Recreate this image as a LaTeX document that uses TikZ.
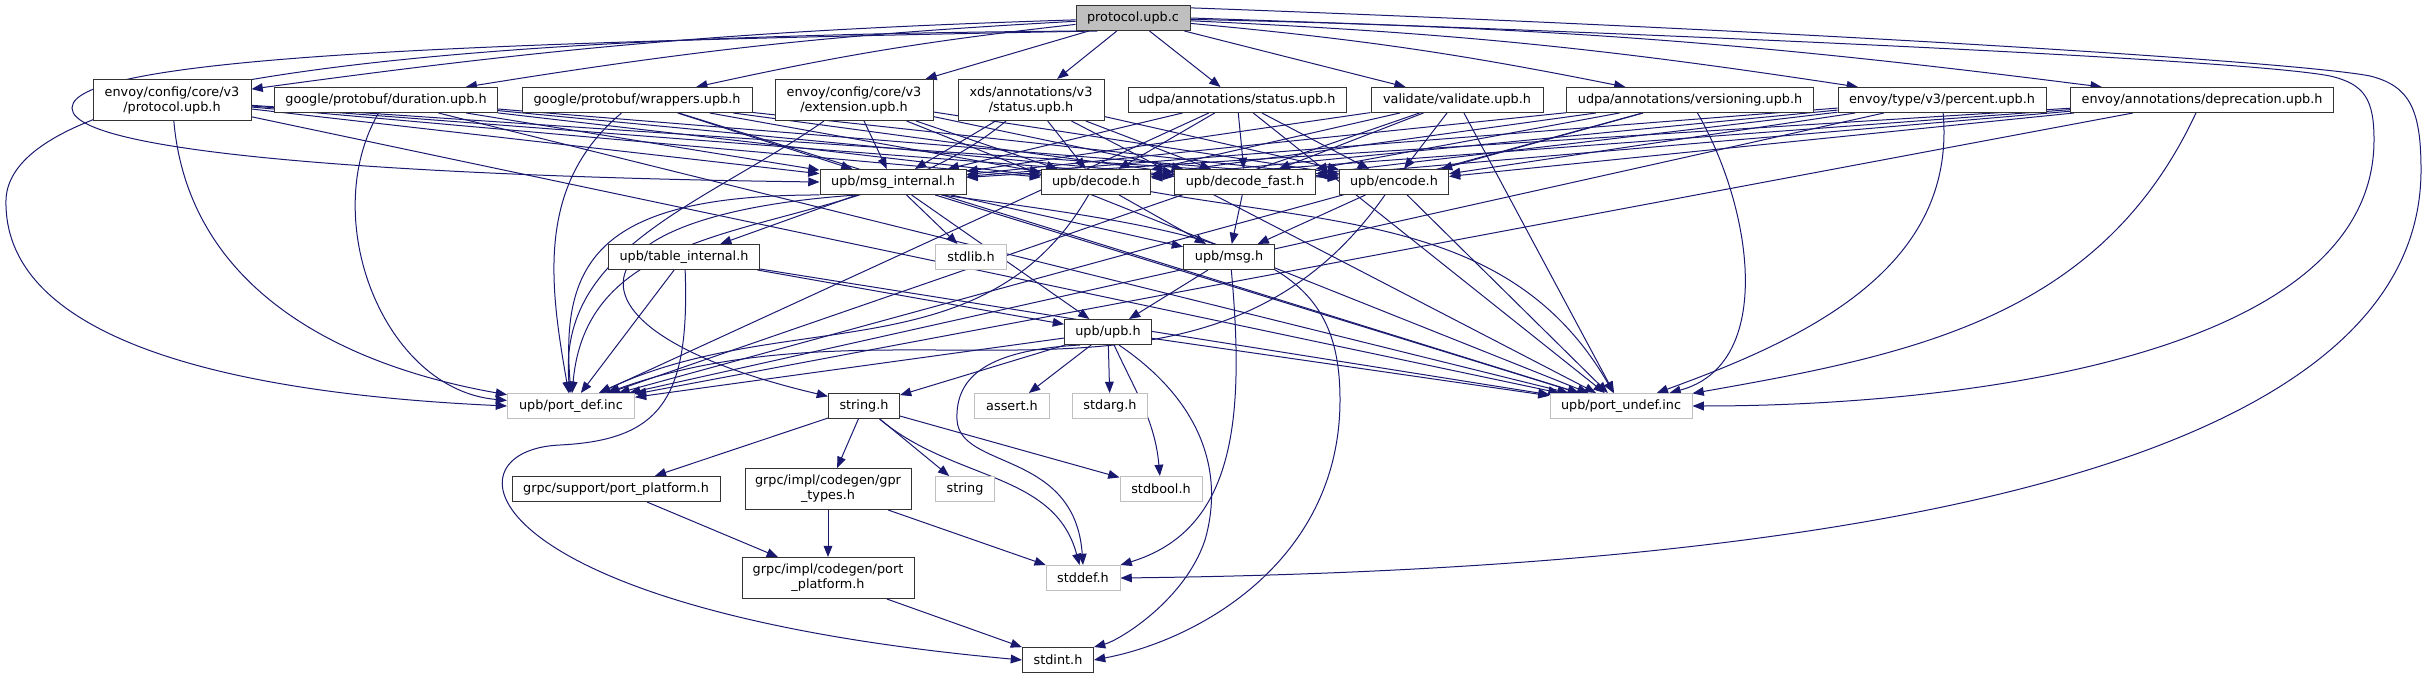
\documentclass[tikz,border=0pt]{standalone}
\usepackage{fontspec}
\setmainfont{DejaVu Sans}
\usepackage{xcolor}
\usetikzlibrary{arrows.meta}
\usetikzlibrary{backgrounds}
\definecolor{edgeblue}{RGB}{25,25,112}
\tikzset{file/.style={draw=black!80, fill=white, line width=0.8pt, minimum height=20pt,
   inner sep=1pt, align=center, font=\fontsize{10.25}{12}\selectfont},
 sys/.style={file, draw=black!25},
 mainfile/.style={file, fill=black!25},
 twoline/.style={minimum height=32.8pt},
 wd/.style={minimum width=#1*0.8pt},
 dep/.style={draw=edgeblue, line width=0.8pt, -{Triangle[length=9pt,width=7pt]}},
 }

\begin{document}
\begin{tikzpicture}[x=0.8pt, y=-0.8pt, every edge/.style={dep}]
        \useasboundingbox (0,0) rectangle (2428,679);
        \node[mainfile, wd=114] (root) at (1133,18) {protocol.upb.c};
        \node[file, twoline, wd=158] (corev3proto) at (172,100) {envoy/config/core/v3\\/protocol.upb.h};
        \node[file, wd=223] (duration) at (386,100) {google/protobuf/duration.upb.h};
        \node[file, wd=230] (wrappers) at (637,100) {google/protobuf/wrappers.upb.h};
        \node[file, twoline, wd=158] (extension) at (854,100) {envoy/config/core/v3\\/extension.upb.h};
        \node[file, twoline, wd=146] (xdsstatus) at (1031,100) {xds/annotations/v3\\/status.upb.h};
        \node[file, wd=218] (udpastatus) at (1237,100) {udpa/annotations/status.upb.h};
        \node[file, wd=172] (validate) at (1457,100) {validate/validate.upb.h};
        \node[file, wd=247] (versioning) at (1690,100) {udpa/annotations/versioning.upb.h};
        \node[file, wd=208] (percent) at (1942,100) {envoy/type/v3/percent.upb.h};
        \node[file, wd=263] (deprecation) at (2202,100) {envoy/annotations/deprecation.upb.h};
        \node[file, wd=146] (msginternal) at (893,182) {upb/msg\_internal.h};
        \node[file, wd=109] (decode) at (1096,182) {upb/decode.h};
        \node[file, wd=141] (decodefast) at (1245,182) {upb/decode\_fast.h};
        \node[file, wd=109] (encode) at (1394,182) {upb/encode.h};
        \node[file, wd=151] (tableinternal) at (684,257) {upb/table\_internal.h};
        \node[sys, wd=71] (stdlib) at (971,257) {stdlib.h};
        \node[file, wd=91] (msg) at (1229,257) {upb/msg.h};
        \node[file, wd=87] (upb) at (1108,332) {upb/upb.h};
        \node[sys, wd=127] (portdef) at (571,406) {upb/port\_def.inc};
        \node[file, wd=71] (stringh) at (864,406) {string.h};
        \node[sys, wd=75] (assert) at (1012,406) {assert.h};
        \node[sys, wd=75] (stdarg) at (1110,406) {stdarg.h};
        \node[sys, wd=142] (portundef) at (1621,406) {upb/port\_undef.inc};
        \node[file, wd=208] (supportplatform) at (616,489) {grpc/support/port\_platform.h};
        \node[file, twoline, wd=166] (gprtypes) at (828,489) {grpc/impl/codegen/gpr\\\_types.h};
        \node[sys, wd=59] (string) at (965,489) {string};
        \node[sys, wd=82] (stdbool) at (1161,489) {stdbool.h};
        \node[file, twoline, wd=172] (codegenplatform) at (828,578) {grpc/impl/codegen/port\\\_platform.h};
        \node[sys, wd=74] (stddef) at (1083,578) {stddef.h};
        \node[file, wd=71] (stdint) at (1058,660) {stdint.h};

        \begin{scope}[on background layer]
        \path (root) edge[bend right=3] (corev3proto) edge[bend right=3] (duration)
            edge[bend right=3] (wrappers) edge (extension) edge (xdsstatus) edge (udpastatus)
            edge (validate) edge[bend left=3] (versioning) edge[bend left=3] (percent)
            edge[bend left=3] (deprecation);
        \draw[dep] (root.195) .. controls (500,35) and (10,70) .. (6,200) .. controls (3,330) and (200,392) .. (portdef.west);
        \draw[dep] (root.200) .. controls (500,42) and (72,55) .. (72,108) .. controls (72,160) and (500,178) .. (msginternal.west);
        \draw[dep] (root.east) .. controls (1700,35) and (2250,60) .. (2330,76) .. controls (2365,84) and (2374,100) .. (2374,140)
            .. controls (2374,360) and (1950,406) .. (portundef.east);
        \draw[dep] (root.10) .. controls (1800,30) and (2300,62) .. (2370,76) .. controls (2410,86) and (2421,110) .. (2421,170)
            .. controls (2421,480) and (1800,570) .. (stddef.east);

        \path (corev3proto) edge (msginternal) edge (decode) edge (decodefast) edge (encode)
            edge[out=-85, in=170] (portdef) edge (portundef);
        \path (duration) edge (msginternal) edge (decode) edge (decodefast) edge (encode)
            edge[out=240, in=175] (portdef) edge (portundef);
        \path (wrappers) edge (msginternal) edge (decode) edge (decodefast) edge (encode)
            edge[out=220, in=100] (portdef) edge (portundef);
        \path (extension) edge (msginternal) edge (decode) edge (decodefast) edge (encode)
            edge[out=215, in=95] (portdef) edge (portundef);
        \path (xdsstatus) edge (msginternal) edge (decode) edge (decodefast) edge (encode)
            edge[out=220, in=85] (portdef) edge (portundef);
        \path (udpastatus) edge (msginternal) edge (decode) edge (decodefast) edge (encode)
            edge (portdef) edge (portundef);
        \path (validate) edge (msginternal) edge (decode) edge (decodefast) edge (encode)
            edge (portdef) edge (portundef);
        \path (versioning) edge (msginternal) edge (decode) edge (decodefast) edge (encode)
            edge (portdef) edge[out=-60, in=15] (portundef);
        \path (percent) edge (msginternal) edge (decode) edge (decodefast) edge (encode)
            edge (portdef) edge[out=-85, in=20] (portundef);
        \path (deprecation) edge (msginternal) edge (decode) edge (decodefast) edge (encode)
            edge (portdef) edge[out=-115, in=10] (portundef);

        \path (msginternal) edge (tableinternal) edge (stdlib) edge (msg) edge (upb) edge (portundef);
        \draw[dep] (msginternal.200) .. controls (560,215) and (545,330) .. (stringh.165);
        \draw[dep] (msginternal.190) .. controls (600,195) and (560,260) .. (portdef.north);
        \draw[dep] (msginternal.-15) .. controls (1250,235) and (1340,260) .. (1340,400) .. controls (1340,560) and (1200,640) .. (stdint.east);
        \path (decode) edge (msg) edge[out=240, in=25] (portdef) edge[out=-10, in=120] (portundef);
        \path (decodefast) edge (msg);
        \path (encode) edge (msg) edge[out=235, in=20] (portdef) edge (portundef);

        \path (tableinternal) edge (upb) edge (portdef) edge (portundef);
        \draw[dep] (tableinternal.-85) .. controls (690,400) and (660,440) .. (560,445) .. controls (440,450) and (470,610) .. (stdint.west);
        \path (msg) edge (upb);
        \draw[dep] (msg.-80) .. controls (1245,420) and (1235,530) .. (stddef.north east);

        \path (upb) edge (portdef) edge (stringh) edge (assert) edge (stdarg)
            edge[out=-65, in=95] (stdbool) edge (portundef);
        \draw[dep] (upb.205) .. controls (990,350) and (955,375) .. (957,420) .. controls (960,470) and (1075,450) .. (stddef.north);
        \draw[dep] (upb.-50) .. controls (1200,400) and (1225,470) .. (1205,540) .. controls (1185,600) and (1120,640) .. (stdint.north east);

        \path (stringh) edge (supportplatform) edge (gprtypes) edge (string) edge (stdbool)
            edge[out=-40, in=105] (stddef);
        \path (supportplatform) edge (codegenplatform);
        \path (gprtypes) edge (codegenplatform) edge (stddef);
        \path (codegenplatform) edge (stdint);
        \end{scope}
    \end{tikzpicture}
\end{document}
